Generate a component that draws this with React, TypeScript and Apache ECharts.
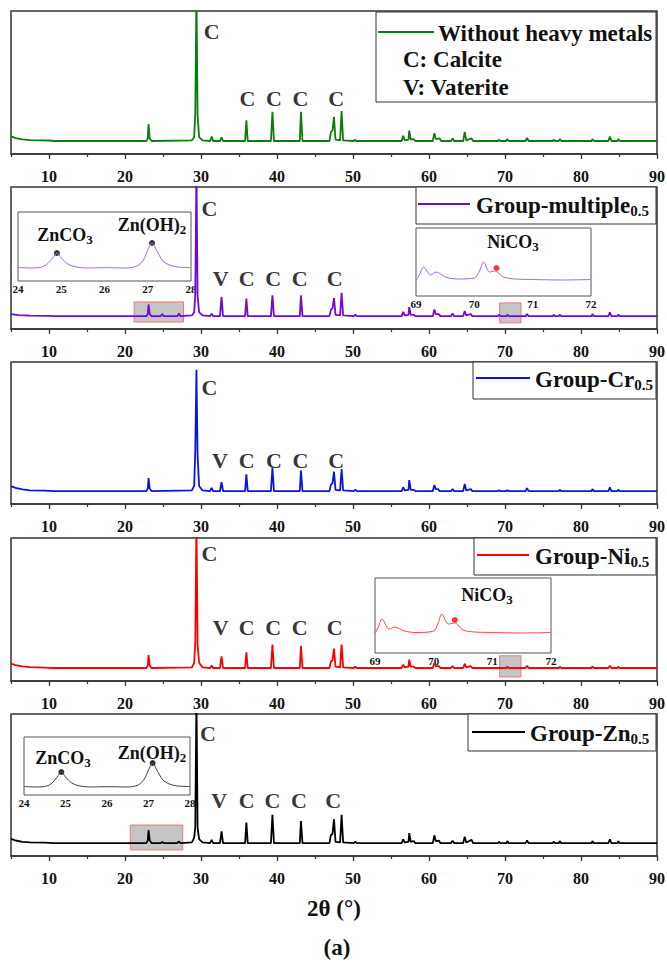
import React, { useEffect, useRef } from "react";
import * as echarts from "echarts";

const FONT = "'Liberation Serif', serif";

// ---------- axis values ----------
const X_MIN = 5;
const X_MAX = 90;
const majorTickValues = [10, 20, 30, 40, 50, 60, 70, 80, 90];
const Y_MIN = -10;
const Y_MAX = 100;

// ---------- series ----------
const seriesNames = ["Without heavy metals", "Group-multiple", "Group-Cr", "Group-Ni", "Group-Zn"];
const seriesSubs = ["", "0.5", "0.5", "0.5", "0.5"];
const seriesColors = ["#0a7d0a", "#7309d6", "#0a14e6", "#ff0000", "#000000"];

const greenPattern: [number, number][] = [
  [5, 3.5], [5.6, 2.2], [6.5, 1.2], [7.5, 0.6], [10, 0.4], [10.6, 0], [22.8, 0], [23.0, 2], [23.1, 13], [23.25, 2], [23.5, 0],
  [28.8, 0.5], [29.1, 3], [29.25, 22], [29.4, 115], [29.55, 20], [29.75, 3], [30.2, 0.5], [31.2, 0], [31.4, 3.4], [31.6, 0],
  [32.5, 0], [32.7, 2.8], [32.9, 0], [35.8, 0], [35.97, 16], [36.15, 0], [39.2, 0], [39.4, 22.4], [39.6, 0], [43.0, 0], [43.15, 22.4], [43.35, 0],
  [46.9, 0], [47.1, 7], [47.3, 8], [47.5, 18.5], [47.7, 1], [48.3, 0.5], [48.5, 23], [48.7, 0.5], [50.1, 0], [50.2, 1], [50.4, 0],
  [56.4, 0], [56.6, 4], [56.8, 0.5], [57.3, 1], [57.4, 8], [57.6, 1], [58.0, 1.5], [58.2, 0], [60.5, 0], [60.7, 6], [60.9, 1.5], [61.4, 2], [61.6, 0],
  [62.9, 0], [63.1, 2], [63.3, 0], [64.5, 0], [64.7, 7], [64.9, 0.5], [65.6, 2], [65.8, 0], [69.1, 0], [69.2, 1], [69.4, 0], [70.2, 0], [70.3, 1.5], [70.5, 0],
  [72.7, 0], [72.9, 2.3], [73.1, 0], [76.3, 0], [76.4, 1], [76.6, 0], [77.1, 0], [77.2, 1.5], [77.4, 0], [81.4, 0], [81.5, 1.5], [81.7, 0],
  [83.6, 0], [83.8, 3.4], [84.0, 0], [84.8, 0], [84.9, 1.5], [85.1, 0], [90, 0],
];

const multiplePattern: [number, number][] = [
  [5, 1.5], [6, 0.8], [7.5, 0.3], [10, 0.2], [10.6, 0], [22.8, 0], [23.0, 1.5], [23.1, 9], [23.25, 1.5], [23.5, 0],
  [24.7, 0], [24.9, 1.5], [25.1, 0], [26.9, 0], [27.1, 2], [27.3, 0],
  [28.8, 0.5], [29.1, 3], [29.25, 17], [29.4, 115], [29.55, 16], [29.75, 3], [30.2, 0.5], [31.2, 0], [31.4, 1.8], [31.6, 0],
  [32.5, 0], [32.7, 15], [32.9, 0], [35.8, 0], [35.97, 13.6], [36.15, 0], [39.2, 0], [39.4, 16], [39.6, 0], [43.0, 0], [43.15, 16], [43.35, 0],
  [46.9, 0], [47.1, 5], [47.3, 6], [47.5, 14], [47.7, 1], [48.3, 0.5], [48.5, 18], [48.7, 0.5], [50.1, 0], [50.3, 1], [50.5, 0],
  [56.4, 0], [56.6, 3.3], [56.8, 0.5], [57.3, 1], [57.4, 7], [57.6, 1], [58.0, 1], [58.2, 0], [60.5, 0], [60.7, 5], [60.9, 1.5], [61.3, 1.5], [61.5, 0],
  [62.9, 0], [63.1, 2], [63.3, 0], [64.5, 0], [64.7, 4], [64.9, 0.5], [65.5, 1.5], [65.7, 0], [69.1, 0], [69.2, 1], [69.4, 0], [70.2, 0], [70.3, 1], [70.5, 0],
  [72.7, 0], [72.9, 1.5], [73.1, 0], [76.3, 0], [76.4, 1], [76.6, 0], [77.1, 0], [77.2, 1], [77.4, 0], [81.4, 0], [81.5, 1.5], [81.7, 0],
  [83.6, 0], [83.8, 3], [84.0, 0], [84.8, 0], [84.9, 1], [85.1, 0], [90, 0],
];

const crPattern: [number, number][] = [
  [5, 3.8], [5.6, 2.5], [6.5, 1.3], [7.5, 0.6], [9.5, 0.3], [10.6, 0], [22.8, 0], [23.0, 2], [23.1, 10], [23.25, 2], [23.5, 0],
  [28.8, 0.5], [29.1, 4], [29.25, 32], [29.4, 94], [29.55, 28], [29.75, 4], [30.2, 0.5], [31.2, 0], [31.4, 2.5], [31.6, 0],
  [32.5, 0], [32.7, 7], [32.9, 0], [35.8, 0], [35.97, 13], [36.15, 0], [39.2, 0], [39.4, 18], [39.6, 0], [43.0, 0], [43.15, 16], [43.35, 0],
  [46.9, 0], [47.1, 5], [47.3, 6], [47.5, 15], [47.7, 1], [48.3, 0.5], [48.5, 17], [48.7, 0.5], [50.1, 0], [50.3, 1], [50.5, 0],
  [56.4, 0], [56.6, 3], [56.8, 0.5], [57.3, 1], [57.4, 8.5], [57.6, 1], [58.0, 1], [58.2, 0], [60.5, 0], [60.7, 4.6], [60.9, 1.5], [61.2, 1.5], [61.4, 0],
  [62.9, 0], [63.1, 1.5], [63.3, 0], [64.5, 0], [64.7, 5.6], [64.9, 0.5], [65.5, 1.5], [65.7, 0], [69.1, 0], [69.2, 0.7], [69.4, 0], [70.2, 0], [70.3, 0.7], [70.5, 0],
  [72.7, 0], [72.9, 2.3], [73.1, 0], [77.1, 0], [77.2, 1], [77.4, 0], [81.4, 0], [81.5, 1.5], [81.7, 0],
  [83.6, 0], [83.8, 3], [84.0, 0], [84.8, 0], [84.9, 1], [85.1, 0], [90, 0],
];

const niPattern: [number, number][] = [
  [5, 3.3], [5.6, 2.2], [6.5, 1.2], [7.5, 0.6], [9.5, 0.3], [10.6, 0], [22.8, 0], [23.0, 2], [23.1, 10], [23.25, 2], [23.5, 0],
  [28.8, 0.5], [29.1, 4], [29.25, 20], [29.4, 115], [29.55, 18], [29.75, 4], [30.2, 0.5], [31.2, 0], [31.4, 2], [31.6, 0],
  [32.5, 0], [32.7, 9], [32.9, 0], [35.8, 0], [35.97, 12], [36.15, 0], [39.2, 0], [39.4, 18], [39.6, 0], [43.0, 0], [43.15, 17], [43.35, 0],
  [46.9, 0], [47.1, 5], [47.3, 6], [47.5, 15], [47.7, 1], [48.3, 0.5], [48.5, 18], [48.7, 0.5], [50.1, 0], [50.3, 1], [50.5, 0],
  [56.4, 0], [56.6, 2.6], [56.8, 0.5], [57.3, 1], [57.4, 6.4], [57.6, 1], [58.0, 1], [58.2, 0], [60.5, 0], [60.7, 3.8], [60.9, 1.5], [61.3, 1.5], [61.5, 0],
  [62.9, 0], [63.1, 1.5], [63.3, 0], [64.5, 0], [64.7, 3.3], [64.9, 0.5], [65.5, 1.5], [65.7, 0], [70.2, 0], [70.3, 1], [70.5, 0],
  [72.7, 0], [72.9, 1.8], [73.1, 0], [77.1, 0], [77.2, 1], [77.4, 0], [81.4, 0], [81.5, 1.3], [81.7, 0],
  [83.6, 0], [83.8, 1.8], [84.0, 0], [84.8, 0], [84.9, 1], [85.1, 0], [90, 0],
];

const znPattern: [number, number][] = [
  [5, 3.3], [5.6, 2], [6.5, 1], [7.5, 0.5], [9.5, 0.3], [10.6, 0], [22.8, 0], [23.0, 2], [23.1, 10], [23.25, 2], [23.5, 0],
  [24.7, 0], [24.9, 0.8], [25.1, 0], [26.9, 0], [27.05, 1.3], [27.3, 0],
  [28.8, 0.5], [29.1, 4], [29.25, 13], [29.4, 115], [29.55, 12], [29.75, 3], [30.2, 0.5], [31.2, 0], [31.4, 2.5], [31.6, 0],
  [32.5, 0], [32.7, 9], [32.9, 0], [35.8, 0], [35.97, 16], [36.15, 0], [39.2, 0], [39.4, 22], [39.6, 0], [43.0, 0], [43.15, 17], [43.35, 0],
  [46.9, 0], [47.1, 6.4], [47.3, 7], [47.5, 18.5], [47.7, 1], [48.3, 0.5], [48.5, 22], [48.7, 0.5], [50.1, 0], [50.3, 1], [50.5, 0],
  [56.4, 0], [56.6, 3], [56.8, 0.5], [57.3, 1], [57.4, 7.7], [57.6, 1], [58.0, 1.5], [58.2, 0], [60.5, 0], [60.7, 6], [60.9, 1.5], [61.3, 2], [61.5, 0],
  [62.9, 0], [63.1, 1.8], [63.3, 0], [64.5, 0], [64.7, 5], [64.9, 0.5], [65.6, 2.5], [65.8, 0], [69.1, 0], [69.2, 1], [69.4, 0], [70.2, 0], [70.3, 1.5], [70.5, 0],
  [72.7, 0], [72.9, 2], [73.1, 0], [76.3, 0], [76.4, 1], [76.6, 0], [77.1, 0], [77.2, 1.5], [77.4, 0], [81.4, 0], [81.5, 1.5], [81.7, 0],
  [83.6, 0], [83.8, 3], [84.0, 0], [84.8, 0], [84.9, 1.5], [85.1, 0], [90, 0],
];

const patterns = [greenPattern, multiplePattern, crPattern, niPattern, znPattern];

// ---------- peak labels (phase markers) ----------
const peakLabelX = [
  [31.4, 36.1, 39.6, 43.1, 47.8],
  [31.1, 32.6, 36.0, 39.5, 43.0, 47.6],
  [31.1, 32.5, 36.0, 39.6, 43.1, 47.8],
  [31.1, 32.6, 36.0, 39.5, 43.0, 47.6],
  [30.9, 32.4, 36.0, 39.4, 42.9, 47.4],
];
const peakLabelY = [
  [84, 33, 33, 33, 33],
  [83, 29.5, 29.5, 29.5, 29.5, 29.5],
  [80, 24, 24, 24, 24, 24],
  [88, 31, 31, 31, 31, 31],
  [85, 33, 33, 33, 33, 33],
];
const peakLabelText = [
  ["C", "C", "C", "C", "C"],
  ["C", "V", "C", "C", "C", "C"],
  ["C", "V", "C", "C", "C", "C"],
  ["C", "V", "C", "C", "C", "C"],
  ["C", "V", "C", "C", "C", "C"],
];

// ---------- zoomed regions (highlight boxes) ----------
const zoomBoxes: { panel: number; x: [number, number]; y: [number, number] }[] = [
  { panel: 1, x: [21.2, 27.7], y: [-4.6, 11] },
  { panel: 1, x: [69.3, 72.1], y: [-5.3, 10.2] },
  { panel: 3, x: [69.3, 72.1], y: [-6.9, 9.4] },
  { panel: 4, x: [20.7, 27.6], y: [-5.3, 14] },
];

// ---------- insets ----------
const znInsetTicks = [24, 28];
const niInsetTicks = [69, 72];
const znInsetMultiple: [number, number][] = [
  [24, 0.5], [24.3, 0], [24.5, 0.5], [24.65, 3], [24.8, 10], [24.9, 15], [25.0, 10], [25.15, 4], [25.35, 1], [25.6, 0], [26.0, 0.3],
  [26.5, 0], [26.75, 2], [26.9, 8], [27.0, 18], [27.1, 25], [27.2, 18], [27.35, 7], [27.5, 3], [27.7, 1], [28, 0.5],
];
const znInsetZn: [number, number][] = [
  [24, 0.5], [24.3, 0], [24.5, 0.5], [24.65, 3], [24.8, 10], [24.9, 15], [25.0, 10], [25.15, 4], [25.35, 1], [25.6, 0], [26.0, 0.3],
  [26.5, 0], [26.75, 2], [26.9, 8], [27.0, 17], [27.1, 24], [27.2, 17], [27.35, 7], [27.5, 3], [27.7, 1], [28, 0.5],
];
const niInsetMultiple: [number, number][] = [
  [69, 0], [69.05, 4], [69.13, 13], [69.25, 5], [69.35, 8], [69.5, 3], [69.7, 1], [70.0, 2], [70.08, 8], [70.16, 18], [70.26, 8],
  [70.35, 9], [70.5, 3], [70.7, 1], [71, 0.5], [71.5, 0], [72, 0.5],
];
const niInsetNi: [number, number][] = [
  [69, 0], [69.05, 5], [69.12, 14], [69.24, 4], [69.34, 6], [69.5, 2], [69.7, 0.5], [70.0, 2], [70.07, 9], [70.14, 19], [70.25, 9],
  [70.36, 10], [70.5, 3], [70.7, 1], [71, 0.5], [71.5, 0], [72, 0.5],
];
const znDots: [number, number][] = [[24.9, 15], [27.1, 25]];
const znDots5: [number, number][] = [[24.9, 15], [27.1, 24]];
const niDotMultiple: [number, number][] = [[70.38, 12]];
const niDotNi: [number, number][] = [[70.36, 13]];

// ---------- layout ----------
const PLOT_LEFT = 11;
const PLOT_WIDTH = 646;
const panelTops = [11, 187, 362, 538, 714];
const panelHeights = [143, 142, 142, 143, 142];

function richName(name: string, sub: string, size: number, subSize: number) {
  return {
    text: sub ? `{n|${name}}{s|${sub}}` : `{n|${name}}`,
    rich: {
      n: { fontSize: size, fontWeight: "bold", fontFamily: FONT, fill: "#111", lineHeight: size + 3 },
      s: { fontSize: subSize, fontWeight: "bold", fontFamily: FONT, fill: "#111", lineHeight: subSize - 2, verticalAlign: "bottom" },
    },
  };
}

function buildOption() {
  const grid: any[] = [];
  const xAxis: any[] = [];
  const yAxis: any[] = [];
  const series: any[] = [];
  const graphic: any[] = [];
  const tickStyle = { color: "#333", width: 1.2 };

  for (let i = 0; i < 5; i++) {
    grid.push({
      left: PLOT_LEFT, top: panelTops[i], width: PLOT_WIDTH, height: panelHeights[i],
      show: true, borderColor: "#333", borderWidth: 1.5, containLabel: false, outerBoundsMode: "none",
    });
    xAxis.push({
      type: "value", gridIndex: i, min: X_MIN, max: X_MAX, interval: 5, position: "bottom",
      axisLine: { show: true, onZero: false, lineStyle: { color: "#333", width: 1.5 } },
      axisTick: { show: true, length: 3, lineStyle: tickStyle },
      axisLabel: {
        show: true, margin: 14, color: "#111", fontFamily: FONT, fontWeight: "bold", fontSize: 16,
        formatter: (v: number) => (v % 10 === 0 ? String(v) : ""),
      },
      splitLine: { show: false },
    });
    xAxis.push({
      type: "value", gridIndex: i, min: X_MIN, max: X_MAX, interval: 5, position: "bottom", offset: 0,
      axisLine: { show: false, onZero: false },
      axisTick: { show: true, length: 5, customValues: majorTickValues, lineStyle: tickStyle },
      axisLabel: { show: false },
      splitLine: { show: false },
    });
    yAxis.push({ type: "value", gridIndex: i, min: Y_MIN, max: Y_MAX, show: false });
  }

  // inset grids
  const insets = [
    { left: 18, top: 212, width: 173, height: 69, range: znInsetTicks, ymin: -13, ymax: 56, data: znInsetMultiple, color: "#a468e8", dots: znDots, dotColor: "#000" },
    { left: 416, top: 228, width: 175, height: 68, range: niInsetTicks, ymin: -16, ymax: 52, data: niInsetMultiple, color: "#a468e8", dots: niDotMultiple, dotColor: "#ff0000" },
    { left: 375, top: 578, width: 176, height: 75, range: niInsetTicks, ymin: -20, ymax: 55, data: niInsetNi, color: "#ff4444", dots: niDotNi, dotColor: "#ff0000" },
    { left: 24, top: 737, width: 166, height: 58, range: znInsetTicks, ymin: -8, ymax: 50, data: znInsetZn, color: "#444", dots: znDots5, dotColor: "#000" },
  ];
  insets.forEach((ins, k) => {
    const gi = 5 + k;
    grid.push({ left: ins.left, top: ins.top, width: ins.width, height: ins.height, show: true, borderColor: "#555", borderWidth: 1, containLabel: false, outerBoundsMode: "none" });
    xAxis.push({
      type: "value", gridIndex: gi, min: ins.range[0], max: ins.range[1], interval: 1,
      axisLine: { show: false }, axisTick: { show: false },
      axisLabel: { show: true, margin: 2, fontSize: 11, fontWeight: "bold", fontFamily: FONT, color: "#111" },
      splitLine: { show: false },
    });
    yAxis.push({ type: "value", gridIndex: gi, min: ins.ymin, max: ins.ymax, show: false });
    series.push({
      type: "line", xAxisIndex: 10 + k, yAxisIndex: gi, data: ins.data, symbol: "none", smooth: 0.3,
      lineStyle: { color: ins.color, width: 1 }, silent: true,
    });
    series.push({
      type: "scatter", xAxisIndex: 10 + k, yAxisIndex: gi, data: ins.dots, symbolSize: 6,
      itemStyle: { color: ins.dotColor }, silent: true,
    });
  });

  for (let i = 0; i < 5; i++) {
    const boxes = zoomBoxes.filter((b) => b.panel === i);
    series.push({
      type: "line", xAxisIndex: 2 * i, yAxisIndex: i, data: patterns[i], symbol: "none", clip: true,
      lineStyle: { color: seriesColors[i], width: 1.8 }, silent: true,
      markArea: boxes.length
        ? {
            silent: true,
            itemStyle: { color: "rgba(140,140,140,0.5)", borderColor: "rgba(240,110,110,0.9)", borderWidth: 1 },
            data: boxes.map((b) => [{ coord: [b.x[0], b.y[0]] }, { coord: [b.x[1], b.y[1]] }]),
          }
        : undefined,
    });
    series.push({
      type: "scatter", xAxisIndex: 2 * i, yAxisIndex: i, silent: true,
      data: peakLabelX[i].map((x, j) => [x, peakLabelY[i][j], peakLabelText[i][j]]),
      symbolSize: 1, itemStyle: { color: "rgba(0,0,0,0)" },
      label: {
        show: true, position: "inside", formatter: (p: any) => p.data[2],
        fontFamily: FONT, fontWeight: "bold", fontSize: 22, color: "#000",
      },
    });
  }

  // legends
  const legendBoxes = [
    { x: 376, y: 12, w: 280, h: 90, lx1: 378, lx2: 434, ly: 32, tx: 438 },
    { x: 416, y: 187, w: 240, h: 37, lx1: 418, lx2: 470, ly: 204, tx: 476 },
    { x: 473, y: 362, w: 183, h: 37, lx1: 476, lx2: 530, ly: 378, tx: 535 },
    { x: 474, y: 538, w: 182, h: 37, lx1: 477, lx2: 529, ly: 555, tx: 535 },
    { x: 468, y: 714, w: 188, h: 37, lx1: 472, lx2: 525, ly: 732, tx: 530 },
  ];
  legendBoxes.forEach((b, i) => {
    graphic.push({ type: "rect", shape: { x: b.x, y: b.y, width: b.w, height: b.h }, style: { fill: "#fff", stroke: "#333", lineWidth: 1 }, z: 10 });
    graphic.push({ type: "line", shape: { x1: b.lx1, y1: b.ly, x2: b.lx2, y2: b.ly }, style: { stroke: seriesColors[i], lineWidth: 2 }, z: 11 });
    const rn = richName(seriesNames[i], seriesSubs[i], 23, 15);
    graphic.push({ type: "text", x: b.tx, y: b.ly + 1, z: 11, style: { ...rn, align: "left", verticalAlign: "middle" } });
  });
  graphic.push({ type: "text", x: 403, y: 59, z: 11, style: { text: "C: Calcite", font: `bold 23px ${FONT}`, fill: "#111", align: "left", verticalAlign: "middle" } });
  graphic.push({ type: "text", x: 403, y: 87, z: 11, style: { text: "V: Vaterite", font: `bold 23px ${FONT}`, fill: "#111", align: "left", verticalAlign: "middle" } });

  // inset titles
  const insetTitles = [
    { x: 65, y: 235, name: "ZnCO", sub: "3" },
    { x: 152, y: 225, name: "Zn(OH)", sub: "2" },
    { x: 513, y: 242, name: "NiCO", sub: "3" },
    { x: 487, y: 595, name: "NiCO", sub: "3" },
    { x: 63, y: 758, name: "ZnCO", sub: "3" },
    { x: 152, y: 753, name: "Zn(OH)", sub: "2" },
  ];
  insetTitles.forEach((t) => {
    const rn = richName(t.name, t.sub, 18, 13);
    graphic.push({ type: "text", x: t.x, y: t.y, z: 11, style: { ...rn, align: "center", verticalAlign: "middle" } });
  });

  graphic.push({ type: "text", x: 334, y: 908, style: { text: "2θ (°)", font: `bold 23px ${FONT}`, fill: "#111", align: "center", verticalAlign: "middle" } });
  graphic.push({ type: "text", x: 337, y: 947, style: { text: "(a)", font: `bold 23px ${FONT}`, fill: "#111", align: "center", verticalAlign: "middle" } });

  return {
    animation: false,
    backgroundColor: "#fff",
    grid, xAxis, yAxis, series, graphic,
  };
}

export default function App() {
  const ref = useRef<HTMLDivElement>(null);
  useEffect(() => {
    if (!ref.current) return;
    const chart = echarts.init(ref.current, null, { renderer: "svg" });
    chart.setOption(buildOption() as any);
    return () => chart.dispose();
  }, []);
  return <div ref={ref} style={{ position: "absolute", left: 0, top: 0, width: 667, height: 962 }} />;
}
